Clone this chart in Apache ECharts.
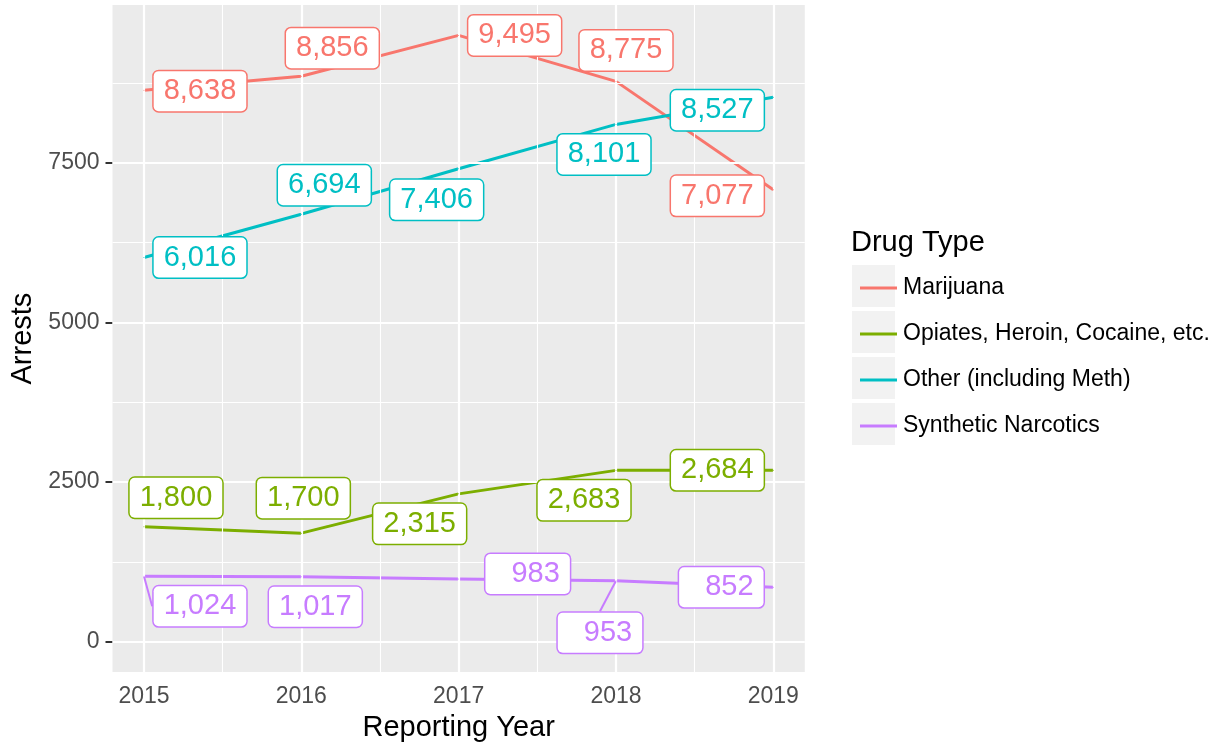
<!DOCTYPE html>
<html>
<head>
<meta charset="utf-8">
<script src="https://cdn.jsdelivr.net/npm/echarts@6/dist/echarts.min.js"></script>
<style>
  html, body { margin: 0; padding: 0; background: #fff; }
  #main { width: 1222px; height: 747px; }
</style>
</head>
<body>
<div id="main"></div>
<script>
var years = [2015, 2016, 2017, 2018, 2019];
var drugTypes = ['Marijuana', 'Opiates, Heroin, Cocaine, etc.', 'Other (including Meth)', 'Synthetic Narcotics'];
var marijuana = [8638, 8856, 9495, 8775, 7077];
var opiates = [1800, 1700, 2315, 2683, 2684];
var other = [6016, 6694, 7406, 8101, 8527];
var synthetic = [1024, 1017, 983, 953, 852];
var yTicks = [0, 2500, 5000, 7500];
var yMinor = [1250, 3750, 6250, 8750];
var xMinor = [2015.5, 2016.5, 2017.5, 2018.5];

var colors = ['#F8766D', '#7CAE00', '#00BFC4', '#C77CFF'];
var font = '"Liberation Sans", Arial, sans-serif';

// repel-style label offsets (px) per series / point
var labelDx = [
  [56, 31, 56, 10, -56],
  [32, 2, -39, -32, -56],
  [56, 23, -22, -12, -56],
  [56, 14, 69, -16, -52]
];
var labelDy = [
  [1, -28, 0, -31, 6],
  [-29, -35, 30, 30, 0],
  [0, -29, 31, 30, 13],
  [30, 30, -5, 52, 0]
];
// which labels get a visible leader segment
var segments = [
  [0, 0, 0, 0, 0],
  [0, 0, 0, 0, 0],
  [0, 0, 0, 0, 0],
  [1, 0, 0, 1, 0]
];

function fmt(v) {
  return v.toLocaleString('en-US');
}

var myChart = echarts.init(document.getElementById('main'));

var seriesValues = [marijuana, opiates, other, synthetic];

var gridLines = [];
years.forEach(function (y) { gridLines.push({ xAxis: y, lineStyle: { width: 2.2 } }); });
xMinor.forEach(function (y) { gridLines.push({ xAxis: y, lineStyle: { width: 1.1 } }); });
yTicks.forEach(function (v) { gridLines.push({ yAxis: v, lineStyle: { width: 2.2 } }); });
yMinor.forEach(function (v) { gridLines.push({ yAxis: v, lineStyle: { width: 1.1 } }); });

var series = [{
  type: 'line',
  name: 'grid',
  data: [],
  z: 1,
  silent: true,
  markLine: {
    silent: true,
    symbol: ['none', 'none'],
    animation: false,
    label: { show: false },
    lineStyle: { color: '#FFFFFF', type: 'solid' },
    data: gridLines
  }
}];

// the lines
drugTypes.forEach(function (name, si) {
  series.push({
    type: 'line',
    name: name,
    z: 2,
    data: years.map(function (y, i) { return [y, seriesValues[si][i]]; }),
    showSymbol: false,
    color: colors[si],
    lineStyle: { width: 3, color: colors[si] },
    itemStyle: { color: colors[si] }
  });
});

// the repelled labels, drawn above all lines
drugTypes.forEach(function (name, si) {
  series.push({
    type: 'scatter',
    name: name + ' labels',
    z: 5,
    silent: true,
    symbolSize: 1,
    itemStyle: { color: colors[si], opacity: 1 },
    data: years.map(function (y, i) {
      var v = seriesValues[si][i];
      return {
        value: [y, v],
        label: { padding: v < 1000 ? [4, 10, 4, 26] : [4, 10, 4, 10] },
        labelLine: { show: segments[si][i] === 1 }
      };
    }),
    label: {
      show: true,
      position: 'inside',
      formatter: function (p) { return fmt(p.value[1]); },
      fontFamily: font,
      fontSize: 29,
      color: colors[si],
      opacity: 1,
      backgroundColor: '#FFFFFF',
      borderColor: colors[si],
      borderWidth: 1.5,
      borderRadius: 5,
      lineHeight: 32
    },
    labelLine: {
      show: false,
      lineStyle: { color: colors[si], width: 2, opacity: 1 }
    },
    labelLayout: function (p) {
      var k = p.seriesIndex - 1 - drugTypes.length;
      return { dx: labelDx[k][p.dataIndex], dy: labelDy[k][p.dataIndex] };
    }
  });
});

var graphics = [{
  type: 'text',
  left: 851,
  top: 228,
  style: { text: 'Drug Type', fontFamily: font, fontSize: 29, fill: '#000000' }
}];
drugTypes.forEach(function (n, i) {
  graphics.push({
    type: 'rect',
    z: 1,
    shape: { x: 852, y: 265 + i * 46, width: 43, height: 42 },
    style: { fill: '#F2F2F2' }
  });
});

myChart.setOption({
  animation: false,
  backgroundColor: '#FFFFFF',
  grid: {
    left: 112.5,
    top: 5.1,
    width: 692.3,
    height: 667.2,
    show: true,
    backgroundColor: '#EBEBEB',
    borderWidth: 0
  },
  xAxis: {
    type: 'value',
    min: 2014.8,
    max: 2019.2,
    name: 'Reporting Year',
    nameLocation: 'middle',
    nameGap: 41,
    nameTextStyle: { fontFamily: font, fontSize: 29, color: '#000000' },
    axisLine: { show: false },
    axisTick: { show: true, length: 7, customValues: years, lineStyle: { color: '#333333', width: 2 } },
    axisLabel: {
      customValues: years,
      margin: 13,
      fontFamily: font,
      fontSize: 23,
      color: '#4D4D4D',
      formatter: function (v) { return String(Math.round(v)); }
    },
    splitLine: { show: false }
  },
  yAxis: {
    type: 'value',
    min: -474.75,
    max: 9969.75,
    name: 'Arrests',
    nameLocation: 'middle',
    nameGap: 73,
    nameTextStyle: { fontFamily: font, fontSize: 29, color: '#000000' },
    axisLine: { show: false },
    axisTick: { show: true, length: 7, customValues: yTicks, lineStyle: { color: '#333333', width: 2 } },
    axisLabel: {
      customValues: yTicks,
      margin: 13,
      fontFamily: font,
      fontSize: 23,
      color: '#4D4D4D',
      formatter: function (v) { return String(Math.round(v)); }
    },
    splitLine: { show: false }
  },
  legend: {
    data: drugTypes,
    orient: 'vertical',
    left: 855,
    top: 270,
    icon: 'rect',
    itemWidth: 37,
    itemHeight: 3,
    itemGap: 20,
    selectedMode: false,
    textStyle: { fontFamily: font, fontSize: 23, color: '#000000', lineHeight: 26, padding: [0, 0, 0, 1] }
  },
  graphic: graphics,
  series: series
});
</script>
</body>
</html>
